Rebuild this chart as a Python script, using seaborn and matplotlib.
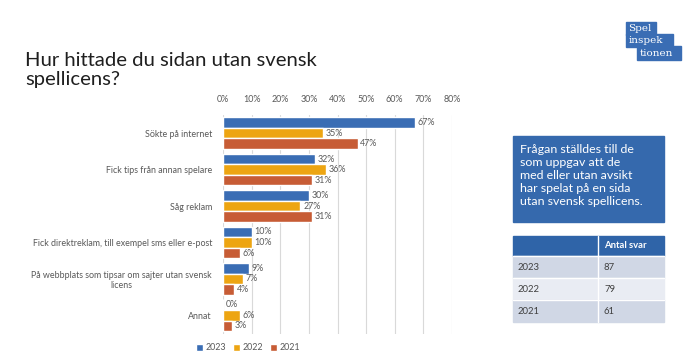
import matplotlib
matplotlib.use("Agg")
import matplotlib.pyplot as plt
from matplotlib.patches import Rectangle
import seaborn as sns
import pandas as pd

# ---- data ----
categories = [
    "Sökte på internet",
    "Fick tips från annan spelare",
    "Såg reklam",
    "Fick direktreklam, till exempel sms eller e-post",
    "På webbplats som tipsar om sajter utan svensk\nlicens",
    "Annat",
]
years = ["2023", "2022", "2021"]
v2023 = [67, 32, 30, 10, 9, 0]
v2022 = [35, 36, 27, 10, 7, 6]
v2021 = [47, 31, 31, 6, 4, 3]
x_ticks = [0, 10, 20, 30, 40, 50, 60, 70, 80]

table_years = ["2023", "2022", "2021"]
table_counts = [87, 79, 61]

title = "Hur hittade du sidan utan svensk\nspellicens?"
note_lines = ["Frågan ställdes till de", "som uppgav att de", "med eller utan avsikt",
              "har spelat på en sida", "utan svensk spellicens."]

# ---- styling ----
sns.set_theme(style="white")
plt.rcParams["font.family"] = ["Lato", "DejaVu Sans"]

colors = ["#3a6db4", "#eda512", "#c75c35"]
txt_grey = "#595959"

rows = []
for y, vals in zip(years, [v2023, v2022, v2021]):
    for c, v in zip(categories, vals):
        rows.append({"cat": c, "year": y, "value": v})
df = pd.DataFrame(rows)

W, H = 700, 361
fig = plt.figure(figsize=(W / 100, H / 100), dpi=100)
fig.patch.set_facecolor("white")

def fx(px):
    return px / W

def fy(py):
    return (H - py) / H

ax = fig.add_axes([fx(223), fy(333.5), fx(452) - fx(223), (333.5 - 115) / H])
sns.barplot(data=df, y="cat", x="value", hue="year", orient="h",
            palette=colors, saturation=1, width=0.87, ax=ax, order=categories,
            hue_order=years, legend=True)

for cont in ax.containers:
    ax.bar_label(cont, labels=[f"{v:.0f}%" for v in cont.datavalues],
                 padding=2, fontsize=6.4, color=txt_grey)

ax.set_xlim(0, 80)
ax.set_xticks(x_ticks)
ax.set_xticklabels([f"{t}%" for t in x_ticks])
ax.xaxis.tick_top()
ax.tick_params(axis="x", length=0, labelsize=6.4, labelcolor=txt_grey, pad=8)
ax.tick_params(axis="y", length=0, labelsize=6.4, labelcolor=txt_grey, pad=8)
for lab in ax.get_yticklabels():
    lab.set_multialignment("center")
ax.set_xlabel("")
ax.set_ylabel("")
ax.xaxis.grid(True, color="#d9d9d9", lw=0.8)
ax.set_axisbelow(True)
for s in ax.spines.values():
    s.set_visible(False)

handles, labels = ax.get_legend_handles_labels()
ax.get_legend().remove()
fig.legend(handles, labels, loc="center", bbox_to_anchor=(fx(248), fy(348)),
           ncol=3, frameon=False, fontsize=6.4, handlelength=0.75, handleheight=0.75,
           handletextpad=0.3, columnspacing=0.8, labelcolor=txt_grey)

# title
fig.text(fx(25), fy(70), title, fontsize=14.6, color="#1f1f1f",
         ha="left", va="center", linespacing=1.15)

# logo
logo_blue = "#3a6db4"
for (xa, xb, ya, yb) in [(626, 656, 22, 35), (626, 673, 34, 47), (637, 681, 46, 60)]:
    fig.patches.append(Rectangle((fx(xa), fy(yb)), fx(xb) - fx(xa), (yb - ya) / H,
                                 transform=fig.transFigure, color=logo_blue))
for t, xx, yy in [("Spel", 628.5, 28.5), ("inspek", 628.5, 40.5), ("tionen", 639.5, 53)]:
    fig.text(fx(xx), fy(yy), t, fontsize=7.5, color="white", ha="left", va="center",
             family="DejaVu Serif")

# note box
fig.patches.append(Rectangle((fx(513), fy(222)), fx(664) - fx(513), (222 - 136) / H,
                             transform=fig.transFigure, color="#3569ad"))
for i, line in enumerate(note_lines):
    fig.text(fx(520), fy(149.5 + 13 * i), line, fontsize=8.9, color="white",
             ha="left", va="center")

# table
hdr = "#2f64a8"
row_cols = ["#d0d7e5", "#e9ecf3", "#d0d7e5"]
x0, xm, x1 = 513, 598, 664
row_edges = [236, 256, 278, 300, 322]
fig.patches.append(Rectangle((fx(x0), fy(row_edges[1])), fx(x1) - fx(x0),
                             (row_edges[1] - row_edges[0]) / H,
                             transform=fig.transFigure, color=hdr))
fig.text(fx(xm + 6), fy((row_edges[0] + row_edges[1]) / 2), "Antal svar", fontsize=6.8,
         color="white", fontweight="bold", ha="left", va="center")
for i, (yr, cnt) in enumerate(zip(table_years, table_counts)):
    top, bot = row_edges[i + 1], row_edges[i + 2]
    fig.patches.append(Rectangle((fx(x0), fy(bot)), fx(x1) - fx(x0), (bot - top) / H,
                                 transform=fig.transFigure, color=row_cols[i]))
    fig.text(fx(x0 + 5), fy((top + bot) / 2), yr, fontsize=6.8, color="#404040",
             ha="left", va="center")
    fig.text(fx(xm + 6), fy((top + bot) / 2), str(cnt), fontsize=6.8, color="#404040",
             ha="left", va="center")
for ye in row_edges[1:-1]:
    fig.lines.append(plt.Line2D([fx(x0), fx(x1)], [fy(ye), fy(ye)], transform=fig.transFigure,
                                color="white", lw=1))
fig.lines.append(plt.Line2D([fx(xm), fx(xm)], [fy(row_edges[0]), fy(row_edges[-1])],
                            transform=fig.transFigure, color="white", lw=1))

fig.savefig("out.png", dpi=100, facecolor="white")
